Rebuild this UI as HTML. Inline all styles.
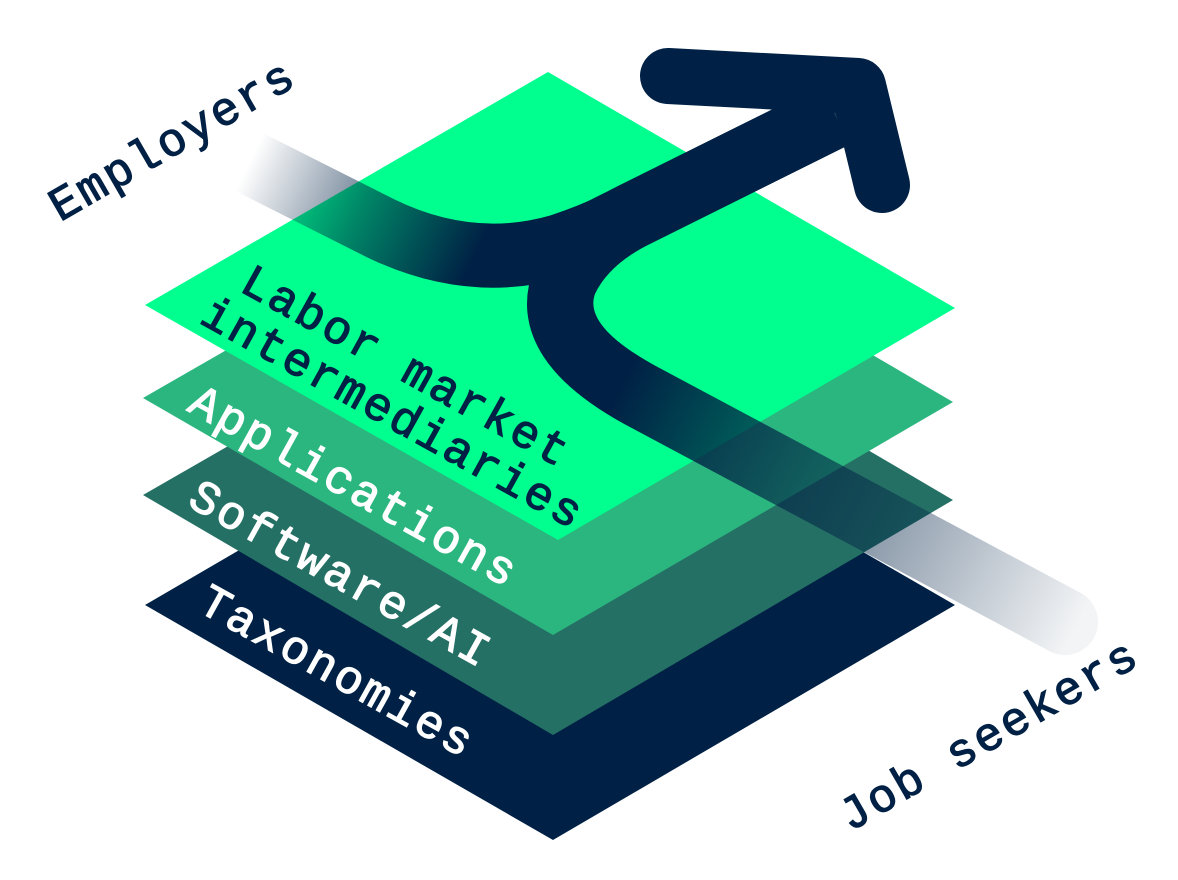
<!DOCTYPE html>
<html><head><meta charset="utf-8"><style>
html,body{margin:0;padding:0;background:#fff;}
svg{display:block;}
text{font-family:"Liberation Mono",monospace;font-size:47px;letter-spacing:2.5px;stroke-width:1.2px;}
</style></head><body>
<svg width="1178" height="880" viewBox="0 0 1178 880" xmlns="http://www.w3.org/2000/svg">
<defs>
<linearGradient id="emp" gradientUnits="userSpaceOnUse" x1="250" y1="160" x2="470" y2="265">
<stop offset="0" stop-color="#002145" stop-opacity="0"/>
<stop offset="0.5" stop-color="#002145" stop-opacity="0.55"/>
<stop offset="1" stop-color="#002145" stop-opacity="1"/>
</linearGradient>
<linearGradient id="job" gradientUnits="userSpaceOnUse" x1="620" y1="390" x2="1075" y2="630">
<stop offset="0" stop-color="#002145" stop-opacity="1"/>
<stop offset="0.35" stop-color="#002145" stop-opacity="0.65"/>
<stop offset="1" stop-color="#002145" stop-opacity="0.05"/>
</linearGradient>
</defs>
<polygon points="548,370 955,605 553,840 145,605" fill="#002145"/>
<polygon points="548,262 953,500 553,735 143,495" fill="#257065"/>
<polygon points="548,165 953,402 553,635 143,398" fill="#2BB67F"/>
<polygon points="548,72 955,308 558,540 145,305" fill="#00FF8F"/>
<path d="M255 165 L380 228 Q470 272 560 246 Q590 236 620 222" fill="none" stroke="url(#emp)" stroke-width="64" stroke-linecap="round"/>
<path d="M1065 622 L640 395 Q540 340 565 280 Q585 238 640 212 L835 115" fill="none" stroke="url(#job)" stroke-width="66" stroke-linecap="round"/>
<path d="M600 232 L640 212 L835 115" fill="none" stroke="#002145" stroke-width="66"/>
<path d="M668 76 L858 86 L882 185" fill="none" stroke="#002145" stroke-width="56" stroke-linecap="round" stroke-linejoin="round"/>
<text transform="translate(238,290) rotate(29)" fill="#002145" stroke="#002145">Labor market</text>
<text transform="translate(198,322) rotate(29)" fill="#002145" stroke="#002145">intermediaries</text>
<text transform="translate(186,410) rotate(29)" fill="#ffffff" stroke="#ffffff">Applications</text>
<text transform="translate(186,505) rotate(29)" fill="#ffffff" stroke="#ffffff">Software/AI</text>
<text transform="translate(196,610) rotate(29)" fill="#ffffff" stroke="#ffffff">Taxonomies</text>
<text transform="translate(60,222) rotate(-30)" fill="#002145" stroke="#002145">Employers</text>
<text transform="translate(850,832) rotate(-30)" fill="#002145" stroke="#002145">Job seekers</text>
</svg>
</body></html>
